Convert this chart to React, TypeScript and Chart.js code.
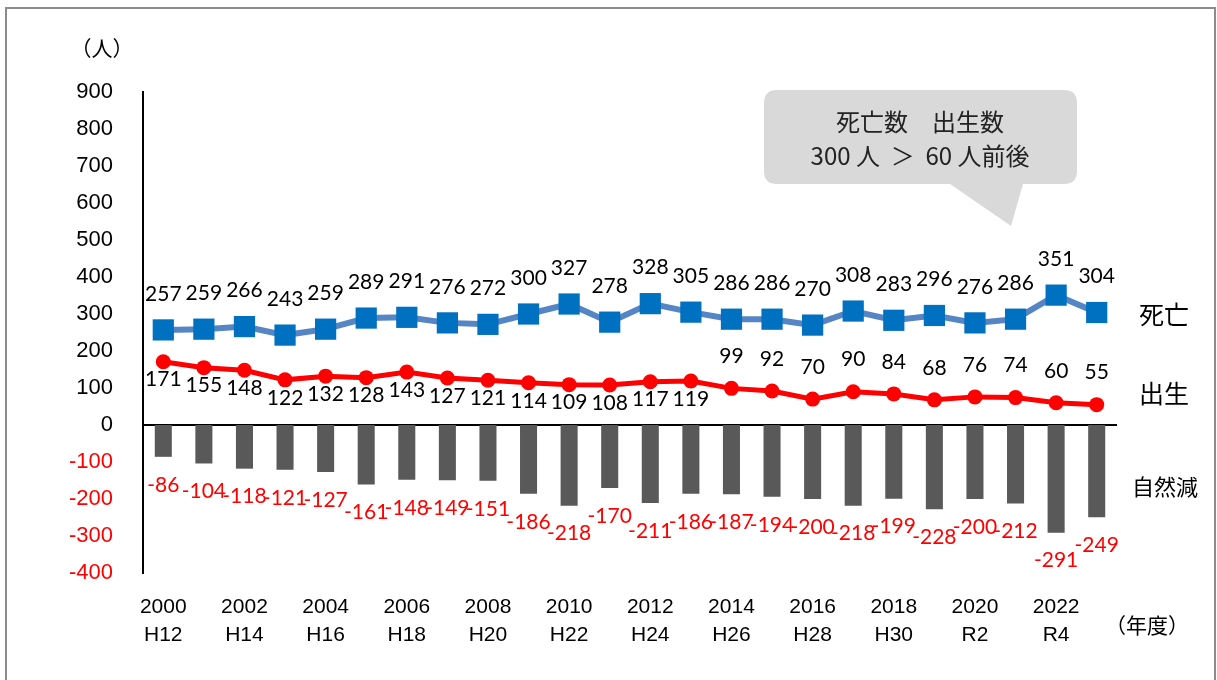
import React, { useEffect, useRef } from 'react';
import { Chart, registerables } from 'chart.js';

Chart.register(...registerables);

const years = ['2000', '2001', '2002', '2003', '2004', '2005', '2006', '2007', '2008', '2009', '2010', '2011', '2012', '2013', '2014', '2015', '2016', '2017', '2018', '2019', '2020', '2021', '2022', '2023'];
const eras = ['H12', 'H13', 'H14', 'H15', 'H16', 'H17', 'H18', 'H19', 'H20', 'H21', 'H22', 'H23', 'H24', 'H25', 'H26', 'H27', 'H28', 'H29', 'H30', 'R1', 'R2', 'R3', 'R4', 'R5'];

const deaths = [257, 259, 266, 243, 259, 289, 291, 276, 272, 300, 327, 278, 328, 305, 286, 286, 270, 308, 283, 296, 276, 286, 351, 304];
const births = [171, 155, 148, 122, 132, 128, 143, 127, 121, 114, 109, 108, 117, 119, 99, 92, 70, 90, 84, 68, 76, 74, 60, 55];
const naturalDecrease = [-86, -104, -118, -121, -127, -161, -148, -149, -151, -186, -218, -170, -211, -186, -187, -194, -200, -218, -199, -228, -200, -212, -291, -249];

const yTicks = { min: -400, max: 900, step: 100 };
const unitLabel = '（人）';
const xUnitLabel = '（年度）';
const seriesNames = { deaths: '死亡', births: '出生', decrease: '自然減' };
const calloutLines = ['死亡数　出生数', '300 人  ＞  60 人前後'];

const JP = '"Noto Sans CJK JP", "Noto Sans", sans-serif';
const NUM = 'Lato, "Open Sans", sans-serif';

const overlayPlugin = {
  id: 'overlay',
  beforeDatasetsDraw(chart: any) {
    const ctx = chart.ctx;
    const { left, right } = chart.chartArea;
    const y0 = chart.scales.y.getPixelForValue(0);
    ctx.save();
    ctx.strokeStyle = '#000';
    ctx.lineWidth = 2;
    ctx.beginPath();
    ctx.moveTo(left, y0);
    ctx.lineTo(right, y0);
    ctx.stroke();
    ctx.restore();
  },
  afterDatasetsDraw(chart: any) {
    const ctx = chart.ctx;
    ctx.save();
    ctx.font = `21px ${NUM}`;
    ctx.textAlign = 'center';
    ctx.textBaseline = 'middle';
    const barMeta = chart.getDatasetMeta(0);
    const birthMeta = chart.getDatasetMeta(1);
    const deathMeta = chart.getDatasetMeta(2);
    deathMeta.data.forEach((el: any, i: number) => {
      ctx.fillStyle = '#000';
      ctx.fillText(String(deaths[i]), el.x, el.y - 36);
    });
    birthMeta.data.forEach((el: any, i: number) => {
      ctx.fillStyle = '#000';
      const dy = i < 14 ? 18 : -32;
      ctx.fillText(String(births[i]), el.x, el.y + dy);
    });
    barMeta.data.forEach((el: any, i: number) => {
      ctx.fillStyle = '#ff0000';
      ctx.fillText(String(naturalDecrease[i]), el.x, el.y + 28);
    });

    // right-side series names
    ctx.fillStyle = '#000';
    ctx.textAlign = 'left';
    ctx.font = `25px ${JP}`;
    ctx.fillText(seriesNames.deaths, 1139, 314);
    ctx.fillText(seriesNames.births, 1139, 393);
    ctx.font = `22px ${JP}`;
    ctx.fillText(seriesNames.decrease, 1132, 487);

    // unit labels
    ctx.textAlign = 'center';
    ctx.font = `21px ${JP}`;
    ctx.fillText(unitLabel, 102, 48);
    ctx.fillText(xUnitLabel, 1147, 625);

    // callout
    const x0 = 764, y0 = 90, x1 = 1077, y1 = 184, r = 13;
    ctx.fillStyle = '#d9d9d9';
    ctx.beginPath();
    ctx.moveTo(x0 + r, y0);
    ctx.lineTo(x1 - r, y0);
    ctx.quadraticCurveTo(x1, y0, x1, y0 + r);
    ctx.lineTo(x1, y1 - r);
    ctx.quadraticCurveTo(x1, y1, x1 - r, y1);
    ctx.lineTo(1023, y1);
    ctx.lineTo(1011, 226);
    ctx.lineTo(950, y1);
    ctx.lineTo(x0 + r, y1);
    ctx.quadraticCurveTo(x0, y1, x0, y1 - r);
    ctx.lineTo(x0, y0 + r);
    ctx.quadraticCurveTo(x0, y0, x0 + r, y0);
    ctx.closePath();
    ctx.fill();
    ctx.fillStyle = '#222';
    ctx.font = `24px ${JP}`;
    ctx.fillText(calloutLines[0], 920, 122);
    ctx.fillText(calloutLines[1], 920, 156);
    ctx.restore();
  },
};

export default function App() {
  const ref = useRef<HTMLCanvasElement>(null);
  useEffect(() => {
    if (!ref.current) return;
    const chart = new Chart(ref.current, {
      type: 'bar',
      data: {
        labels: years,
        datasets: [
          {
            type: 'bar',
            label: seriesNames.decrease,
            data: naturalDecrease,
            backgroundColor: '#595959',
            barPercentage: 0.42,
            categoryPercentage: 1,
            order: 3,
          },
          {
            type: 'line',
            label: seriesNames.births,
            data: births,
            borderColor: '#ff0000',
            backgroundColor: '#ff0000',
            borderWidth: 5,
            pointStyle: 'circle',
            pointRadius: 7.5,
            pointBorderWidth: 0,
            tension: 0,
            order: 2,
          },
          {
            type: 'line',
            label: seriesNames.deaths,
            data: deaths,
            borderColor: '#5585c4',
            backgroundColor: '#0070c0',
            borderWidth: 6,
            pointStyle: 'rect',
            pointRadius: 15,
            pointBorderWidth: 0,
            tension: 0,
            order: 1,
          },
        ] as any,
      },
      options: {
        responsive: false,
        animation: false,
        devicePixelRatio: 1,
        layout: { padding: { left: 0, right: 100, top: 92, bottom: 0 } },
        plugins: { legend: { display: false }, tooltip: { enabled: false } },
        scales: {
          x: {
            offset: true,
            grid: { display: false },
            border: { display: false },
            afterFit: (s: any) => { s.height = 107; },
            ticks: {
              autoSkip: false,
              maxRotation: 0,
              padding: 13,
              color: '#000',
              font: { family: '"Liberation Sans Narrow", "Liberation Sans", Arial, sans-serif', size: 21, lineHeight: 1.3 },
              callback: (_v: any, i: number) => (i % 2 === 0 ? [years[i], eras[i]] : ''),
            },
          },
          y: {
            min: yTicks.min,
            max: yTicks.max,
            grid: { display: false },
            border: { display: true, color: '#000', width: 2 },
            afterFit: (s: any) => { s.width = 143; },
            ticks: {
              stepSize: yTicks.step,
              padding: 22,
              color: (c: any) => (c.tick && c.tick.value < 0 ? '#ff0000' : '#000'),
              font: { family: '"Liberation Sans", Arial, sans-serif', size: 22 },
            },
          },
        },
      },
      plugins: [overlayPlugin],
    });
    return () => chart.destroy();
  }, []);

  return (
    <div style={{ position: 'fixed', left: 0, top: 0, width: 1217, height: 680, overflow: 'hidden', background: '#fff' }}>
      <canvas ref={ref} width={1217} height={680} style={{ position: 'absolute', left: 0, top: 0 }} />
      <div style={{ position: 'absolute', left: 5, top: 7, width: 1211, height: 700, border: '2px solid #8c8c8c', boxSizing: 'border-box', pointerEvents: 'none' }} />
    </div>
  );
}
